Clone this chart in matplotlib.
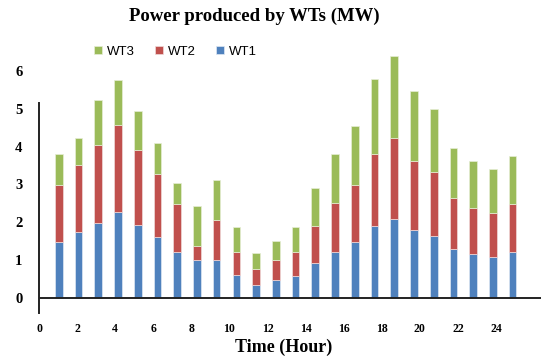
import numpy as np
import matplotlib.pyplot as plt

hours = np.arange(1, 25)

# power of each turbine per hour (MW)
wt1 = [1.48, 1.73, 1.98, 2.26, 1.93, 1.61, 1.22, 0.99, 0.99, 0.59, 0.34, 0.47,
       0.58, 0.92, 1.22, 1.47, 1.89, 2.08, 1.79, 1.63, 1.28, 1.16, 1.07, 1.22]
wt2 = [1.50, 1.78, 2.07, 2.32, 1.98, 1.67, 1.26, 0.38, 1.07, 0.63, 0.43, 0.52,
       0.64, 0.99, 1.29, 1.52, 1.92, 2.16, 1.83, 1.69, 1.36, 1.22, 1.18, 1.25]
wt3 = [0.84, 0.71, 1.18, 1.20, 1.04, 0.82, 0.55, 1.07, 1.06, 0.66, 0.40, 0.52,
       0.66, 0.99, 1.29, 1.55, 1.98, 2.16, 1.85, 1.67, 1.34, 1.24, 1.15, 1.29]

x_tick_labels = list(range(0, 25, 2))
y_tick_labels = list(range(0, 7))

c_blue = "#4F81BD"
c_red = "#C0504D"
c_green = "#9BBB59"

serif = ["Liberation Serif", "DejaVu Serif"]

fig = plt.figure(figsize=(5.41, 3.58), dpi=100)
ax = fig.add_axes([0.0721, 0.1257, 0.928, 0.738])

wt1 = np.array(wt1)
wt2 = np.array(wt2)
wt3 = np.array(wt3)

w = 0.39
b1 = ax.bar(hours, wt1, width=w, color=c_blue, edgecolor="#dfe8f3", linewidth=0.5, label="WT1")
b2 = ax.bar(hours, wt2, width=w, bottom=wt1, color=c_red, edgecolor="#f0dada", linewidth=0.5, label="WT2")
b3 = ax.bar(hours, wt3, width=w, bottom=wt1 + wt2, color=c_green, edgecolor="#e6eed6", linewidth=0.5, label="WT3")

ax.set_xlim(0.09, 25.44)
ax.set_ylim(-0.41, 6.6)

# axis lines: baseline at zero, left line a bit shorter than the data range
ax.axhline(0, color="#222222", lw=1.4, zorder=3)
for s in ["top", "right", "bottom"]:
    ax.spines[s].set_visible(False)
ax.spines["left"].set_bounds(-0.41, 5.16)
ax.spines["left"].set_linewidth(1.4)
ax.spines["left"].set_color("#222222")

# hour labels sit slightly compressed relative to the bars
ax.set_xticks(np.array(x_tick_labels) * 0.965)
ax.set_xticklabels([str(v) for v in x_tick_labels], fontfamily=serif,
                   fontweight="bold", fontsize=8.5)
ax.set_yticks(y_tick_labels)
ax.set_yticklabels([str(v) for v in y_tick_labels], fontfamily=serif,
                   fontweight="bold", fontsize=10.5)
ax.tick_params(axis="x", length=0, pad=7)
ax.tick_params(axis="y", length=0, pad=12)

fig.text(0.47, 0.953, "Power produced by WTs (MW)", ha="center", va="center",
         fontfamily=serif, fontweight="bold", fontsize=13.5)
fig.text(0.525, 0.031, "Time (Hour)", ha="center", va="center",
         fontfamily=serif, fontweight="bold", fontsize=13)

fig.legend([b3, b2, b1], ["WT3", "WT2", "WT1"], ncol=3, frameon=False,
           loc="center left", bbox_to_anchor=(0.152, 0.855),
           prop={"family": ["Liberation Sans", "DejaVu Sans"], "size": 9.5},
           handlelength=0.6, handleheight=0.6, handletextpad=0.4, columnspacing=1.5)

fig.savefig("out.png", dpi=100)
